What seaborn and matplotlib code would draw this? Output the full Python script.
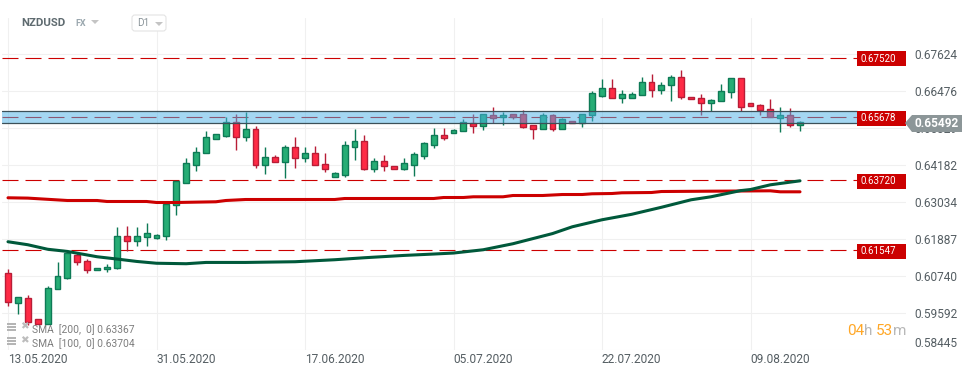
"""
NZDUSD daily candles with SMA overlays and price levels
"""

import matplotlib
matplotlib.use('Agg')
import matplotlib.pyplot as plt
from matplotlib.patches import Polygon, Rectangle, FancyBboxPatch
import seaborn as sns

candle_open = [0.60832, 0.59901, 0.60056, 0.59404, 0.59249, 0.60335, 0.60677, 0.61379, 0.61192, 0.60913,
               0.60944, 0.60987, 0.61981, 0.61825, 0.61950, 0.61906, 0.61968, 0.62931, 0.63626, 0.64185,
               0.64557, 0.65010, 0.65104, 0.65520, 0.65054, 0.65302, 0.64185, 0.64433, 0.64296, 0.64744,
               0.64402, 0.64557, 0.64216, 0.63812, 0.63893, 0.64762, 0.64930, 0.64079, 0.64309, 0.64154,
               0.64079, 0.64203, 0.64483, 0.64824, 0.65116, 0.65197, 0.65240, 0.65489, 0.65414, 0.65737,
               0.65675, 0.65768, 0.65768, 0.65426, 0.65302, 0.65737, 0.65321, 0.65551, 0.65489, 0.65731,
               0.66345, 0.66575, 0.66265, 0.66265, 0.66358, 0.66761, 0.66513, 0.66668, 0.66916, 0.66296,
               0.66265, 0.66109, 0.66171, 0.66451, 0.66885, 0.66109, 0.66047, 0.65923, 0.65662, 0.65737,
               0.65426]
candle_close = [0.59932, 0.60087, 0.59299, 0.59249, 0.60366, 0.60739, 0.61462, 0.61174, 0.60925, 0.60987,
                0.61018, 0.61981, 0.61825, 0.61981, 0.62061, 0.62012, 0.62974, 0.63697, 0.64247, 0.64588,
                0.65054, 0.65147, 0.65520, 0.65054, 0.65302, 0.64185, 0.64433, 0.64296, 0.64744, 0.64402,
                0.64557, 0.64185, 0.64079, 0.63936, 0.64806, 0.64930, 0.64079, 0.64309, 0.64172, 0.64079,
                0.64247, 0.64526, 0.64868, 0.65116, 0.65041, 0.65271, 0.65520, 0.65414, 0.65768, 0.65662,
                0.65737, 0.65684, 0.65383, 0.65302, 0.65737, 0.65321, 0.65613, 0.65489, 0.65768, 0.66420,
                0.66575, 0.66265, 0.66389, 0.66389, 0.66761, 0.66513, 0.66687, 0.66916, 0.66296, 0.66233,
                0.66109, 0.66202, 0.66482, 0.66885, 0.65985, 0.66016, 0.65892, 0.65693, 0.65737, 0.65426,
                0.65520]
candle_high = [0.60966, 0.60087, 0.60159, 0.59404, 0.60438, 0.61174, 0.61546, 0.61484, 0.61276, 0.60987,
               0.61112, 0.62260, 0.62291, 0.62260, 0.62384, 0.62052, 0.62974, 0.63697, 0.64402, 0.64753,
               0.65249, 0.65147, 0.65675, 0.65768, 0.65839, 0.65405, 0.64753, 0.64504, 0.64815, 0.65063,
               0.64753, 0.64784, 0.64567, 0.63967, 0.64930, 0.65312, 0.65125, 0.64402, 0.64504, 0.64154,
               0.64411, 0.64588, 0.64908, 0.65333, 0.65333, 0.65302, 0.65631, 0.65777, 0.65768, 0.65985,
               0.65849, 0.65768, 0.65892, 0.65426, 0.65808, 0.65777, 0.65644, 0.65551, 0.65768, 0.66482,
               0.66864, 0.66864, 0.66522, 0.66460, 0.66916, 0.67019, 0.66761, 0.66988, 0.67143, 0.66296,
               0.66389, 0.66233, 0.66708, 0.66885, 0.66885, 0.66109, 0.66078, 0.66233, 0.65985, 0.65954,
               0.65560]
candle_low = [0.59795, 0.59569, 0.59227, 0.59249, 0.59249, 0.60335, 0.60633, 0.61068, 0.60820, 0.60913,
              0.60851, 0.60944, 0.61503, 0.61680, 0.61680, 0.61888, 0.61844, 0.62620, 0.63626, 0.64017,
              0.64557, 0.64992, 0.65063, 0.64669, 0.64948, 0.64110, 0.63924, 0.64296, 0.63800, 0.64110,
              0.64296, 0.64185, 0.63977, 0.63812, 0.63831, 0.64349, 0.64039, 0.63986, 0.64017, 0.64079,
              0.64039, 0.63853, 0.64390, 0.64722, 0.64970, 0.65197, 0.65240, 0.65197, 0.65290, 0.65489,
              0.65445, 0.65622, 0.65352, 0.65001, 0.65302, 0.65259, 0.65321, 0.65489, 0.65383, 0.65569,
              0.66314, 0.66265, 0.66128, 0.66265, 0.66358, 0.66314, 0.66407, 0.66190, 0.66233, 0.66233,
              0.65755, 0.65861, 0.66171, 0.66283, 0.65880, 0.66016, 0.65755, 0.65693, 0.65228, 0.65364,
              0.65259]

sma_200_index = [0, 2, 4, 6, 9, 10, 14, 15, 17, 21, 22, 24, 33, 34, 43, 44, 46, 47, 50, 51, 54,
                 56, 58, 59, 61, 62, 65, 66, 77, 78, 80]
sma_200 = [0.63170, 0.63160, 0.63123, 0.63086, 0.63086, 0.63055, 0.63055, 0.63024, 0.63024, 0.63046,
           0.63086, 0.63117, 0.63117, 0.63148, 0.63148, 0.63179, 0.63179, 0.63201, 0.63201, 0.63241,
           0.63241, 0.63272, 0.63272, 0.63294, 0.63303, 0.63325, 0.63334, 0.63365, 0.63387, 0.63356,
           0.63356]
sma_100_index = [0, 2, 4, 6, 9, 11, 13, 15, 18, 20, 24, 29, 33, 36, 40, 43, 45, 48, 51, 55,
                 57, 60, 63, 66, 69, 71, 74, 75, 77, 80]
sma_100 = [0.61804, 0.61711, 0.61571, 0.61503, 0.61338, 0.61267, 0.61192, 0.61136, 0.61121, 0.61161,
           0.61161, 0.61183, 0.61245, 0.61307, 0.61379, 0.61422, 0.61453, 0.61555, 0.61742, 0.62058,
           0.62269, 0.62487, 0.62657, 0.62875, 0.63108, 0.63201, 0.63393, 0.63427, 0.63573, 0.63697]

price_levels = [0.67520, 0.65678, 0.63720, 0.61547]
zone_low = 0.65488
zone_high = 0.65861
last_price = 0.65492

y_ticks = [0.67624, 0.66476, 0.65329, 0.64182, 0.63034, 0.61887, 0.60740, 0.59592, 0.58445]
x_ticks = [0, 15, 30, 45, 60, 75]
x_labels = ['13.05.2020', '31.05.2020', '17.06.2020', '05.07.2020', '22.07.2020', '09.08.2020']

GREEN_FILL = '#26ad75'
GREEN_EDGE = '#0e7a56'
RED_FILL = '#ff2a45'
RED_EDGE = '#b81d37'
LINE_RED = '#cc0000'
TEXT_GRAY = '#555e63'

W, H = 974, 375
LEFT, RIGHT, TOP, BOTTOM = 2, 906, 18, 350
BOX_LEFT = 857


def px(x, y):
    """Pixel position to figure fraction"""
    return x / W, 1 - y / H


def draw_candles(ax):
    for i in range(len(candle_open)):
        o, c = candle_open[i], candle_close[i]
        up = c >= o
        fill = GREEN_FILL if up else RED_FILL
        edge = GREEN_EDGE if up else RED_EDGE
        ax.vlines(i, candle_low[i], candle_high[i], color=edge, lw=1.0, zorder=3)
        ax.bar(i, abs(c - o), bottom=min(o, c), width=0.6, color=fill,
               edgecolor=edge, linewidth=1.0, zorder=3.1)


def draw_levels(ax):
    xmax = (BOX_LEFT - LEFT) / (RIGHT - LEFT)
    trans = ax.get_yaxis_transform()
    price_per_px = (0.67624 - 0.58445) / (350.2 - 54.5)
    for level in price_levels:
        ax.plot([0, xmax], [level, level], transform=trans, color=LINE_RED, lw=0.8,
                dashes=(14.4, 6.3), zorder=2)
    ax.axhspan(zone_low, zone_high, xmin=0, xmax=xmax, facecolor='#4bb1e7', alpha=0.5,
               edgecolor='none', zorder=5)
    for edge_price in (zone_low, zone_high):
        ax.plot([0, xmax], [edge_price, edge_price], transform=trans, color='#3c5058',
                lw=0.9, zorder=5.1)
    for level in price_levels:
        center = level - price_per_px
        ax.add_patch(Rectangle((xmax, center - 7.5 * price_per_px), 1 - xmax, 15 * price_per_px,
                               transform=trans, facecolor=LINE_RED, edgecolor='none',
                               zorder=6, clip_on=False))
        ax.text(xmax + 0.004, center, f'{level:.5f}', transform=trans, color='white',
                fontsize=7, va='center', ha='left', zorder=7)


def draw_overlay(fig):
    # instrument header
    x, y = px(21, 23)
    fig.text(x, y, 'NZDUSD', fontsize=8.2, fontweight='bold', color='#5f6b70', va='center')
    x, y = px(75, 24)
    fig.text(x, y, 'FX', fontsize=6.5, fontweight='bold', color='#9aa7ae', va='center')
    fig.add_artist(Polygon([px(91, 20), px(99, 20), px(95, 24)], facecolor='#c4c4c4',
                           edgecolor='none', transform=fig.transFigure))
    x0, y0 = px(132, 31)
    x1, y1 = px(166, 15)
    fig.add_artist(FancyBboxPatch((x0, y0), x1 - x0, y1 - y0, boxstyle='round,pad=0,rounding_size=0.003',
                                  facecolor='white', edgecolor='#e4e4e4', lw=0.8,
                                  transform=fig.transFigure, mutation_aspect=2.6, zorder=8))
    x, y = px(137, 23.5)
    fig.text(x, y, 'D1', fontsize=7.2, color='#8a9499', va='center', zorder=9)
    fig.add_artist(Polygon([px(155, 22), px(163, 22), px(159, 26)], facecolor='#c4c4c4',
                           edgecolor='none', transform=fig.transFigure, zorder=9))

    # last price flag
    fig.add_artist(Polygon([px(905, 123), px(912, 115), px(962, 115), px(962, 132), px(912, 132)],
                           facecolor='#8c9698', edgecolor='none', transform=fig.transFigure, zorder=8))
    x, y = px(914.5, 123.5)
    fig.text(x, y, f'{last_price:.5f}', fontsize=8.6, fontweight='bold', color='white',
             va='center', zorder=9)

    # SMA legend
    for row_y, label in ((329.5, 'SMA  [200,  0] 0.63367'), (343.5, 'SMA  [100,  0] 0.63704')):
        for bar_y in (-6.5, -3.5, -0.5):
            x0, y0 = px(7, row_y + bar_y + 1.6)
            x1, y1 = px(16, row_y + bar_y)
            fig.add_artist(Rectangle((x0, y0), x1 - x0, y1 - y0, facecolor='#b5b5b5',
                                     edgecolor='none', transform=fig.transFigure, zorder=8))
        x, y = px(20, row_y - 3)
        fig.text(x, y, '\u2716', fontsize=7.5, color='#bdbdbd', va='center',
                 family='DejaVu Sans', zorder=8)
        x, y = px(32, row_y)
        fig.text(x, y, label, fontsize=7.4, color='#7d7d7d', va='center', zorder=8)

    # candle countdown
    for text_x, text, color in ((847, '04', '#ffa726'), (864, 'h', '#b8b8b8'),
                                (876, '53', '#ffa726'), (893, 'm', '#b8b8b8')):
        x, y = px(text_x, 331)
        fig.text(x, y, text, fontsize=11, color=color, va='center', zorder=8)


def main():
    sns.set_style('white')
    plt.rcParams['font.family'] = ['Roboto', 'DejaVu Sans']

    fig = plt.figure(figsize=(W / 100, H / 100), dpi=100)
    ax = fig.add_axes([LEFT / W, 1 - BOTTOM / H, (RIGHT - LEFT) / W, (BOTTOM - TOP) / H])

    ax.set_xlim((LEFT - 8) / 9.9, (RIGHT - 8) / 9.9)
    ax.set_ylim(0.58440, 0.68757)

    draw_candles(ax)
    sns.lineplot(x=sma_200_index, y=sma_200, ax=ax, color=LINE_RED, lw=2.2, zorder=4, legend=False)
    sns.lineplot(x=sma_100_index, y=sma_100, ax=ax, color='#00593b', lw=2.2, zorder=4.1, legend=False)
    draw_levels(ax)

    ax.set_xticks(x_ticks)
    ax.set_xticklabels(x_labels, ha='left')
    ax.set_yticks(y_ticks)
    ax.set_yticklabels([f'{t:.5f}' for t in y_ticks])
    ax.yaxis.tick_right()
    ax.tick_params(axis='y', length=0, pad=5.8, labelsize=8.6, labelcolor=TEXT_GRAY)
    ax.tick_params(axis='x', length=0, pad=2.5, labelsize=8.6, labelcolor=TEXT_GRAY)
    ax.get_yticklabels()[-1].set_va('bottom')

    ax.grid(True, color='#f0f0f0', lw=0.8)
    ax.set_axisbelow(True)
    ax.set_xlabel('')
    ax.set_ylabel('')
    sns.despine(ax=ax, left=True, right=True, top=True, bottom=True)

    draw_overlay(fig)

    fig.savefig('out.png', dpi=100)
    plt.close(fig)


if __name__ == '__main__':
    main()
